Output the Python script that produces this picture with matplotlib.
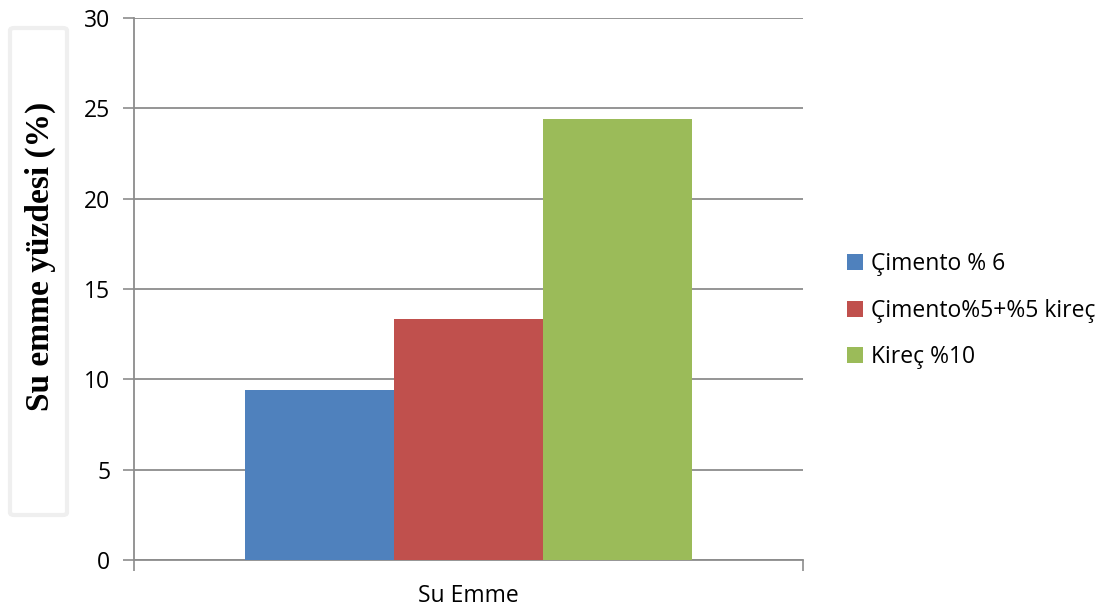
import matplotlib.pyplot as plt
from matplotlib.patches import FancyBboxPatch

# Veriler
kategoriler = ['Su Emme']
seriler = ['Çimento % 6', 'Çimento%5+%5 kireç', 'Kireç %10']
degerler = [9.41, 13.34, 24.41]
renkler = ['#4f81bd', '#c0504d', '#9bbb59']
y_ticks = [0, 5, 10, 15, 20, 25, 30]

plt.rcParams['font.family'] = ['Open Sans', 'DejaVu Sans']

fig = plt.figure(figsize=(11.03, 6.09), dpi=100)
ax = fig.add_axes([0.1215, 0.0805, 0.6065, 0.8899])

genislik = 0.2227
for i, (ad, deger, renk) in enumerate(zip(seriler, degerler, renkler)):
    ax.bar(0 + (i - 1) * genislik, deger, width=genislik, color=renk, label=ad, zorder=3)

ax.set_xlim(-0.5, 0.5)
ax.set_ylim(0, 30)
ax.set_yticks(y_ticks)
ax.set_xticks([-0.5, 0.5])
ax.set_xticklabels(['', ''])
ax.tick_params(axis='x', length=8, color='#8c8c8c', width=1.2)
ax.tick_params(axis='y', length=8, color='#8c8c8c', width=1.2, labelsize=16.5, pad=9)
ax.grid(axis='y', color='#8c8c8c', linewidth=1.3, zorder=0)
for s in ['top', 'right']:
    ax.spines[s].set_visible(False)
ax.spines['left'].set_color('#8c8c8c')
ax.spines['bottom'].set_color('#8c8c8c')
ax.spines['left'].set_linewidth(1.3)
ax.spines['bottom'].set_linewidth(1.3)

fig.text((133 + 803) / 2 / 1103, 1 - 596 / 609, kategoriler[0], ha='center', va='center', fontsize=16.5)

# Y ekseni başlığı kutu içinde
kutu = FancyBboxPatch((10 / 1103, 1 - 515 / 609), 57 / 1103, 487 / 609,
                      boxstyle='round,pad=0,rounding_size=0.004', transform=fig.transFigure,
                      facecolor='white', edgecolor='#efefef', linewidth=3)
fig.patches.append(kutu)
fig.text(40 / 1103, 1 - 256 / 609, 'Su emme yüzdesi (%)', rotation=90, ha='center', va='center',
         fontsize=24, fontweight='bold', family=['Liberation Serif', 'DejaVu Serif'])

fig.legend(loc='upper left', bbox_to_anchor=(838 / 1103, 1 - 243 / 609), frameon=False,
           fontsize=16.5, handlelength=0.7, handleheight=0.7, handletextpad=0.35,
           labelspacing=0.98, borderaxespad=0)

fig.savefig('out.png', dpi=100)
